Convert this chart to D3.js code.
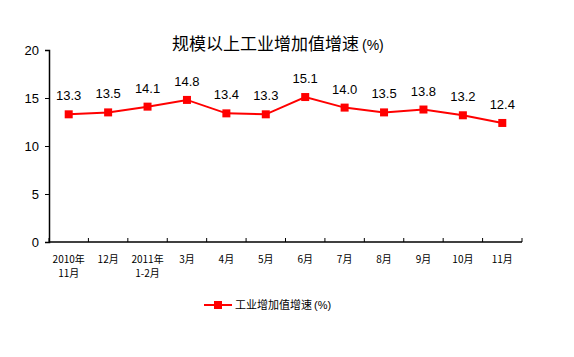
<!DOCTYPE html>
<html><head><meta charset="utf-8">
<script src="https://cdn.jsdelivr.net/npm/d3@7"></script>
<style>body{margin:0;background:#fff}</style>
</head><body>
<svg id="c" width="574" height="357"></svg>
<script>
const categories = [["2010年","11月"],["12月"],["2011年","1-2月"],["3月"],["4月"],["5月"],["6月"],["7月"],["8月"],["9月"],["10月"],["11月"]];
const values = [13.3,13.5,14.1,14.8,13.4,13.3,15.1,14.0,13.5,13.8,13.2,12.4];
const yTicks = [0,5,10,15,20];
const title = "规模以上工业增加值增速";
const seriesName = "工业增加值增速";

(function(){
const svg = d3.select("#c");
const mL = 49, mR = 522, mT = 50, mB = 242;
const x = d3.scaleBand().domain(d3.range(categories.length)).range([mL, mR]);
const y = d3.scaleLinear().domain([0, 20]).range([mB, mT]);
const cjk = "'Noto Sans CJK SC', sans-serif";
const red = "#ff0000";

// title
const t = svg.append("text").attr("x", 172).attr("y", 50).attr("text-anchor", "start")
  .style("font-family", cjk).style("font-size", "17px").attr("fill", "#000");
t.append("tspan").text(title);
t.append("tspan").attr("dx", 3).style("font-size", "14px").style("font-family","Arial, 'Liberation Sans'").text("(%)");

// y axis
const ya = svg.append("g").attr("transform", `translate(${mL},0)`)
  .call(d3.axisLeft(y).tickValues(yTicks).tickSize(4).tickPadding(6));
ya.selectAll("text").style("font-family", "Arial, 'Liberation Sans', sans-serif").style("font-size", "13px").attr("fill","#000");
ya.select(".domain").attr("stroke", "#000").attr("stroke-width", 1.5);
ya.selectAll(".tick line").attr("stroke", "#000");

// x axis
const xa = svg.append("g").attr("transform", `translate(0,${mB})`);
xa.append("line").attr("x1", mL).attr("x2", mR).attr("stroke", "#000").attr("stroke-width", 1.5);
const edges = d3.range(categories.length + 1).map(i => i < categories.length ? x(i) : x(i - 1) + x.bandwidth());
xa.selectAll(".tk").data(edges).enter().append("line")
  .attr("x1", d => d).attr("x2", d => d).attr("y1", 0).attr("y2", -4).attr("stroke", "#000");
xa.selectAll(".lbl").data(categories).enter().append("text")
  .attr("text-anchor", "middle").attr("transform", (d, i) => `translate(${x(i) + x.bandwidth()/2},0)`)
  .style("font-family", cjk).style("font-size", "10px").attr("fill", "#000")
  .each(function(d) {
    const s = d3.select(this);
    d.forEach((line, j) => s.append("tspan").attr("x", 0).attr("y", 21 + j * 14).text(line));
  });

// line
const cx = i => x(i) + x.bandwidth() / 2;
svg.append("path").datum(values)
  .attr("d", d3.line().x((d, i) => cx(i)).y(d => y(d)))
  .attr("fill", "none").attr("stroke", red).attr("stroke-width", 2);
svg.selectAll(".m").data(values).enter().append("rect")
  .attr("x", (d, i) => cx(i) - 4).attr("y", d => y(d) - 4).attr("width", 8).attr("height", 8).attr("fill", red);
svg.selectAll(".v").data(values).enter().append("text")
  .attr("x", (d, i) => cx(i)).attr("y", d => y(d) - 14).attr("text-anchor", "middle")
  .style("font-family", "Arial, 'Liberation Sans', sans-serif").style("font-size", "13px").attr("fill", "#000")
  .text(d => d.toFixed(1));

// legend
const lg = svg.append("g").attr("transform", "translate(204,305)");
lg.append("line").attr("x1", 0).attr("x2", 28).attr("stroke", red).attr("stroke-width", 2);
lg.append("rect").attr("x", 10).attr("y", -4).attr("width", 8).attr("height", 8).attr("fill", red);
const lt = lg.append("text").attr("x", 31).attr("y", 4).style("font-family", cjk).style("font-size", "11px").attr("fill", "#000");
lt.append("tspan").text(seriesName);
lt.append("tspan").attr("dx", 2).style("font-size", "11px").style("font-family","Arial, 'Liberation Sans'").text("(%)");
})();
</script>
</body></html>
